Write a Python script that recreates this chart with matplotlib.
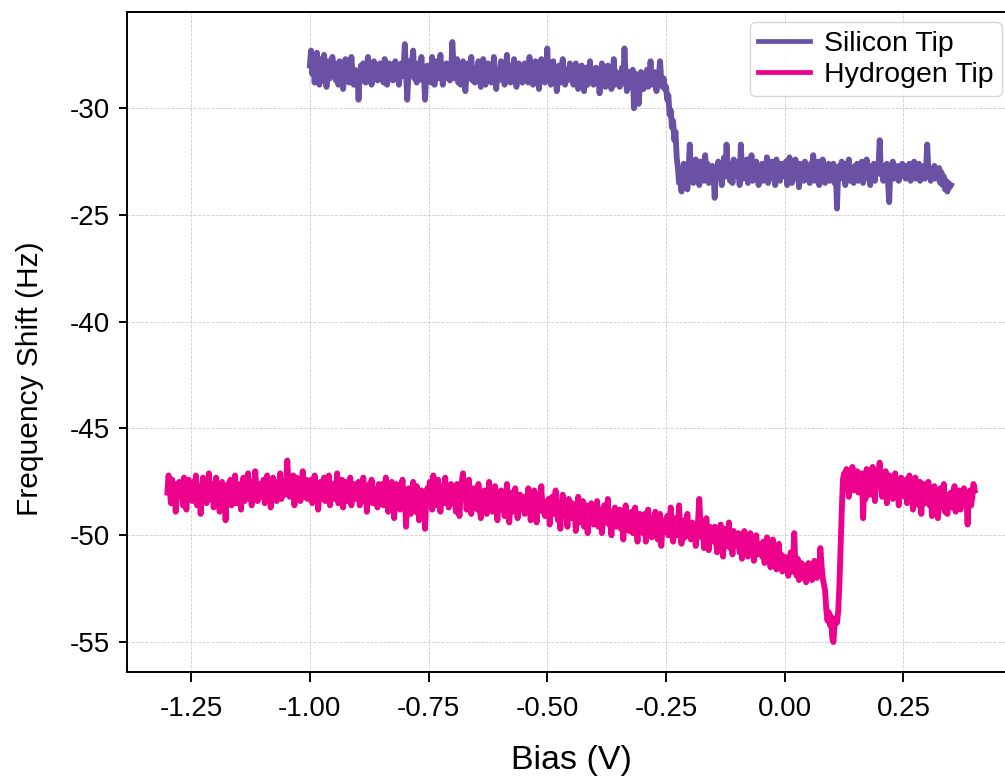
import numpy as np
import matplotlib
matplotlib.use("Agg")
import matplotlib.pyplot as plt

plt.rcParams['font.family'] = ['Liberation Sans', 'DejaVu Sans']

# bias sweeps (V), sampled every 2.5 mV
si_bias_range = (-1.00, 0.35)
h_bias_range = (-1.30, 0.40)

# frequency shift (Hz), silicon-terminated tip
silicon = [
    -28.0, -27.3, -28.4, -27.6, -28.8, -28.1, -27.4, -28.6, -28.9, -27.7, -28.3, -28.7, -27.5, -28.2, -29.0, -28.4, -27.8, -28.6, -28.1, -27.6,
    -28.5, -27.9, -28.7, -28.2, -28.9, -27.8, -28.4, -28.0, -29.1, -28.3, -27.7, -28.6, -28.1, -28.8, -28.4, -27.6, -28.5, -28.9, -28.2, -28.6,
    -28.3, -29.6, -28.5, -28.0, -28.7, -27.9, -28.4, -28.8, -28.1, -27.6, -28.6, -28.2, -28.9, -28.3, -27.8, -28.5, -28.0, -28.7, -28.4, -27.9,
    -28.6, -28.1, -28.8, -27.7, -28.4, -28.9, -28.2, -27.9, -28.5, -28.0, -28.7, -28.3, -27.8, -28.6, -28.2, -28.9, -28.4, -27.9, -28.5, -28.1,
    -27.0, -28.3, -29.6, -28.5, -27.8, -28.4, -28.0, -27.3, -28.6, -28.2, -28.8, -27.9, -28.5, -28.1, -27.6, -28.7, -28.3, -29.6, -28.4, -28.0,
    -28.5, -28.1, -28.8, -27.6, -28.3, -28.9, -28.2, -27.8, -28.6, -28.0, -27.5, -28.4, -28.9, -28.1, -28.5, -27.9, -28.6, -28.2, -28.7, -28.3,
    -26.9, -28.0, -28.6, -28.2, -27.7, -28.8, -28.3, -28.9, -28.1, -27.8, -28.5, -29.2, -28.4, -27.9, -28.6, -28.2, -27.6, -28.7, -28.3, -28.8,
    -28.1, -28.6, -27.8, -28.4, -29.0, -28.2, -27.7, -28.5, -28.9, -28.3, -27.9, -28.6, -28.1, -28.8, -28.4, -27.6, -28.5, -29.1, -28.2, -28.7,
    -28.4, -27.8, -28.6, -28.1, -28.9, -28.3, -27.5, -28.7, -28.2, -28.8, -28.0, -28.5, -27.7, -28.4, -29.0, -28.3, -27.9, -28.6, -28.2, -28.8,
    -28.3, -27.9, -28.7, -28.2, -28.8, -27.6, -28.5, -28.1, -28.9, -28.4, -27.8, -28.6, -28.2, -29.1, -28.4, -27.7, -28.5, -28.0, -28.8, -28.3,
    -27.2, -28.6, -28.2, -28.9, -28.4, -27.8, -28.7, -28.3, -29.2, -28.5, -28.0, -28.8, -28.3, -27.7, -28.6, -28.9, -28.2, -28.7, -28.4, -27.9,
    -28.6, -28.2, -28.9, -28.4, -27.9, -28.7, -29.1, -28.3, -28.8, -28.0, -28.6, -29.2, -28.5, -28.1, -28.9, -28.4, -27.8, -28.7, -28.3, -28.9,
    -28.5, -28.1, -28.8, -28.3, -29.3, -28.6, -27.9, -28.7, -28.2, -29.0, -28.5, -28.0, -28.8, -28.4, -29.1, -28.6, -27.7, -28.9, -28.3, -28.7,
    -28.4, -29.0, -28.6, -28.1, -28.8, -27.2, -28.5, -29.2, -28.7, -28.3, -29.0, -28.5, -28.2, -30.0, -28.7, -28.4, -29.1, -29.8, -28.9, -28.3,
    -28.6, -29.1, -28.4, -28.8, -28.2, -29.0, -28.5, -27.8, -28.9, -28.6, -28.3, -28.8, -29.2, -28.5, -28.4, -27.8, -28.7, -29.0, -28.6, -29.1,
    -29.0, -29.6, -29.4, -30.3, -30.1, -30.9, -30.6, -31.5, -31.1, -32.3, -32.8, -33.5, -33.2, -33.9, -33.1, -32.6, -33.7, -33.2, -33.8, -32.9,
    -31.7, -33.2, -32.6, -33.5, -32.9, -32.4, -33.3, -32.8, -33.6, -32.5, -33.0, -32.7, -33.4, -32.2, -33.1, -32.6, -33.5, -32.9, -33.3, -32.7,
    -33.0, -34.2, -32.8, -33.3, -32.5, -33.1, -32.7, -33.6, -32.9, -32.3, -33.2, -31.7, -33.0, -32.6, -33.4, -32.8, -33.5, -32.4, -33.1, -32.7,
    -33.2, -32.5, -33.6, -31.7, -32.9, -33.3, -32.6, -33.0, -32.4, -33.5, -32.8, -33.1, -32.2, -33.4, -32.7, -33.2, -32.5, -33.0, -33.6, -32.8,
    -33.1, -32.6, -33.4, -32.9, -33.2, -32.3, -33.5, -32.8, -33.0, -32.5, -33.3, -32.7, -33.6, -32.4, -33.1, -32.9, -33.4, -32.6, -33.0, -32.8,
    -33.2, -32.5, -33.6, -32.9, -32.3, -33.1, -33.5, -32.7, -33.0, -32.4, -33.3, -32.8, -33.7, -32.6, -33.2, -32.9, -33.4, -32.5, -33.1, -32.8,
    -33.0, -33.5, -32.6, -33.2, -32.2, -33.4, -32.8, -33.1, -32.5, -33.6, -32.9, -33.3, -32.4, -33.0, -33.5, -32.7, -33.2, -32.6, -33.4, -32.9,
    -33.1, -32.6, -33.5, -32.8, -34.7, -33.0, -32.7, -33.3, -32.5, -33.2, -32.9, -33.6, -32.6, -33.1, -32.4, -33.4, -32.8, -33.0, -33.5, -32.7,
    -33.2, -32.6, -33.4, -32.9, -33.1, -32.5, -33.5, -32.8, -33.0, -32.4, -33.3, -32.7, -33.6, -32.9, -33.2, -32.6, -33.4, -32.8, -33.0, -32.7,
    -31.5, -33.1, -32.7, -33.4, -32.9, -33.2, -32.6, -33.5, -34.4, -32.8, -33.1, -32.5, -33.3, -32.9, -33.0, -32.7, -33.4, -32.8, -33.2, -32.6,
    -33.0, -32.7, -33.3, -32.9, -33.1, -32.6, -33.4, -32.8, -33.2, -32.5, -33.3, -32.9, -33.0, -32.6, -33.4, -32.8, -33.1, -32.7, -33.3, -32.9,
    -31.7, -33.0, -32.8, -33.4, -32.9, -33.2, -32.7, -33.3, -32.9, -33.1, -32.8, -33.5, -33.0, -33.6, -33.2, -33.8, -33.4, -33.9, -33.5, -33.7,
    -33.6,
]

# frequency shift (Hz), hydrogen-terminated tip
hydrogen = [
    -48.0, -47.2, -47.9, -48.5, -47.4, -48.3, -47.8, -48.9, -47.6, -48.2, -47.5, -48.1, -47.9, -48.6, -47.3, -48.0, -48.8, -47.7, -47.4, -48.3,
    -47.8, -48.4, -47.5, -48.0, -47.2, -48.6, -48.1, -47.7, -49.0, -47.9, -47.3, -48.2, -47.6, -48.5, -47.8, -47.1, -48.3, -48.0, -47.6, -48.7,
    -47.9, -47.3, -48.4, -47.7, -48.9, -48.0, -47.5, -48.3, -47.8, -49.3, -48.1, -47.6, -48.2, -47.4, -48.6, -47.9, -48.1, -47.2, -48.5, -47.8,
    -48.2, -47.6, -48.8, -47.9, -47.3, -48.4, -47.7, -48.0, -47.1, -48.3, -47.8, -48.6, -47.5, -48.1, -47.0, -47.9, -48.4, -47.6, -48.2, -47.7,
    -48.0, -47.4, -48.5, -47.8, -47.2, -48.1, -47.6, -48.7, -47.9, -47.3, -48.2, -47.7, -48.4, -47.5, -48.0, -47.1, -48.3, -47.8, -47.5, -48.1,
    -47.6, -46.5, -47.7, -48.2, -47.4, -48.0, -47.2, -48.6, -47.8, -47.3, -48.1, -47.5, -48.4, -47.7, -47.0, -48.2, -47.9, -47.4, -48.3, -47.6,
    -48.1, -47.4, -48.5, -47.9, -47.2, -48.2, -47.6, -48.8, -48.0, -47.5, -48.3, -47.8, -47.3, -48.4, -47.7, -48.1, -47.2, -48.6, -47.9, -48.2,
    -47.6, -48.3, -47.8, -47.1, -48.5, -47.9, -48.2, -47.4, -48.7, -48.0, -47.5, -48.4, -47.8, -48.1, -47.3, -48.6, -47.9, -47.6, -48.3, -47.8,
    -48.2, -47.5, -48.6, -47.9, -48.1, -47.3, -48.4, -47.7, -48.9, -48.0, -47.6, -48.3, -47.4, -48.5, -47.8, -48.2, -47.9, -48.7, -47.6, -48.1,
    -48.3, -47.6, -48.6, -48.0, -47.3, -48.2, -48.9, -47.8, -48.4, -47.5, -48.1, -49.2, -48.0, -47.6, -48.5, -47.9, -48.8, -48.2, -47.4, -48.6,
    -48.0, -49.6, -48.5, -47.8, -48.3, -49.0, -48.6, -47.5, -48.2, -48.9, -47.7, -48.4, -49.3, -48.1, -47.9, -48.7, -48.2, -49.7, -48.4, -47.8,
    -48.4, -47.5, -48.1, -48.8, -47.2, -48.3, -47.9, -48.6, -47.4, -48.2, -48.9, -47.7, -48.0, -48.5, -47.3, -48.4, -47.8, -48.7, -48.1, -47.6,
    -48.5, -47.8, -48.2, -48.9, -47.6, -48.4, -49.1, -48.0, -47.5, -47.1, -48.2, -47.9, -48.8, -48.3, -47.4, -48.5, -49.0, -48.1, -47.8, -48.4,
    -48.2, -48.8, -47.6, -48.5, -49.2, -48.0, -48.6, -47.9, -48.3, -49.0, -48.4, -47.5, -48.7, -48.1, -48.9, -48.3, -47.7, -48.6, -49.3, -48.2,
    -48.4, -47.9, -48.8, -48.2, -49.1, -48.5, -47.6, -48.7, -49.4, -48.3, -48.0, -48.9, -48.4, -47.8, -48.6, -49.2, -48.5, -48.1, -48.8, -48.3,
    -48.2, -49.0, -48.5, -48.9, -47.8, -48.6, -49.3, -48.4, -48.8, -47.9, -48.5, -49.4, -48.1, -48.7, -48.3, -47.7, -48.9, -48.4, -49.1, -48.6,
    -48.9, -48.3, -49.5, -48.7, -48.2, -49.0, -48.6, -47.9, -48.8, -49.3, -48.5, -49.7, -48.6, -48.1, -49.0, -48.4, -48.9, -49.6, -48.3, -48.8,
    -49.2, -48.5, -49.0, -48.7, -49.8, -48.9, -48.2, -49.4, -48.8, -49.1, -48.4, -49.6, -49.0, -48.6, -49.9, -48.8, -49.3, -48.5, -49.1, -49.5,
    -48.7, -49.3, -48.4, -49.6, -49.0, -48.8, -49.9, -49.2, -48.6, -49.4, -49.0, -48.3, -49.5, -49.1, -50.0, -48.9, -49.3, -48.7, -49.6, -49.2,
    -49.4, -48.8, -49.7, -49.1, -50.2, -49.3, -48.6, -49.5, -49.0, -49.8, -49.3, -48.9, -49.9, -49.2, -48.7, -49.6, -50.3, -49.4, -49.0, -49.7,
    -49.3, -49.9, -49.0, -50.3, -49.6, -48.8, -49.7, -49.2, -50.1, -49.5, -49.9, -48.9, -49.6, -50.2, -49.4, -49.0, -50.5, -49.7, -49.3, -49.8,
    -49.5, -49.1, -50.0, -49.4, -48.7, -49.8, -50.3, -49.6, -49.2, -50.0, -49.5, -48.6, -49.7, -50.4, -49.8, -49.3, -50.1, -49.6, -49.0, -49.9,
    -49.7, -50.2, -49.4, -50.0, -49.6, -50.5, -49.9, -49.3, -48.3, -49.5, -50.1, -49.7, -50.6, -49.8, -49.2, -50.0, -50.7, -49.6, -50.2, -49.9,
    -50.3, -49.6, -50.1, -50.8, -49.9, -50.4, -49.5, -50.2, -51.0, -50.0, -49.7, -50.5, -50.1, -49.4, -50.6, -50.2, -50.9, -49.8, -50.4, -50.0,
    -50.5, -49.9, -50.8, -50.2, -51.1, -50.4, -49.8, -50.6, -50.1, -51.0, -50.5, -49.9, -50.7, -50.3, -51.2, -50.6, -50.0, -50.9, -50.4, -50.8,
    -50.5, -51.0, -50.3, -51.3, -50.7, -50.1, -51.1, -50.6, -51.5, -50.8, -50.2, -51.2, -50.9, -51.6, -51.0, -50.4, -51.3, -50.9, -51.7, -51.1,
    -51.0, -51.6, -51.2, -51.9, -51.4, -50.8, -51.7, -51.3, -49.9, -51.5, -51.9, -51.1, -52.1, -51.6, -51.3, -52.0, -51.4, -51.8, -52.2, -51.5,
    -51.3, -51.9, -51.5, -52.1, -51.6, -51.2, -51.8, -52.0, -51.4, -51.7, -50.6, -51.4, -52.0, -52.3, -52.6, -53.5, -54.0, -53.6, -54.2, -53.8,
    -54.8, -55.0, -54.2, -53.9, -54.1, -53.6, -52.4, -50.6, -48.9, -47.4, -47.1, -47.8, -46.9, -47.5, -48.2, -47.2, -47.6, -46.8, -47.9, -47.3,
    -47.7, -47.0, -48.0, -47.4, -47.8, -47.1, -49.2, -47.6, -48.3, -46.9, -47.9, -47.3, -48.1, -47.5, -46.8, -47.7, -48.4, -47.2, -47.6, -47.0,
    -46.6, -47.5, -48.2, -47.3, -47.8, -47.0, -48.5, -47.6, -47.2, -48.0, -47.4, -48.3, -47.7, -47.1, -48.1, -47.5, -48.6, -47.8, -47.3, -48.0,
    -47.6, -48.2, -47.4, -48.5, -47.8, -47.2, -48.3, -47.7, -48.8, -48.0, -47.3, -48.4, -47.9, -48.6, -47.5, -49.0, -48.1, -47.6, -48.5, -47.9,
    -48.3, -47.5, -48.6, -48.0, -49.1, -48.2, -47.7, -48.8, -48.1, -49.2, -48.4, -47.8, -48.7, -48.2, -47.6, -48.9, -48.3, -49.0, -48.1, -48.6,
    -48.0, -48.7, -48.2, -47.7, -48.9, -48.3, -48.6, -47.9, -48.8, -48.2, -48.5, -47.8, -48.4, -48.1, -49.5, -48.3, -47.9, -48.6, -48.2, -47.6,
    -47.9,
]

series_labels = ['Silicon Tip', 'Hydrogen Tip']
series_colors = ['#6a51a3', '#ec008c']

x_ticks = [-1.25, -1.0, -0.75, -0.5, -0.25, 0.0, 0.25]
y_ticks = [-30, -35, -40, -45, -50, -55]
y_tick_labels = ['-30', '-25', '-40', '-45', '-50', '-55']

si_bias = np.linspace(si_bias_range[0], si_bias_range[1], len(silicon))
h_bias = np.linspace(h_bias_range[0], h_bias_range[1], len(hydrogen))

fig = plt.figure(figsize=(10.05, 7.76), dpi=100)
# right spine falls just past the canvas edge
ax = fig.add_axes([0.1264, 0.134, 0.8836, 0.8505])

ax.plot(si_bias, silicon, color=series_colors[0], lw=4.2, label=series_labels[0])
ax.plot(h_bias, hydrogen, color=series_colors[1], lw=4.2, label=series_labels[1])

ax.set_yticks(y_ticks)
ax.set_yticklabels(y_tick_labels)
ax.set_xticks(x_ticks)
ax.set_xticklabels(['%.2f' % t for t in x_ticks])

ax.grid(True, linestyle='--', linewidth=0.6, color='#cccccc')
ax.set_axisbelow(True)
for side in ax.spines.values():
    side.set_linewidth(1.4)
ax.tick_params(axis='both', labelsize=20, width=1.4)
ax.tick_params(axis='x', length=7, pad=10.5)
ax.tick_params(axis='y', length=6, pad=6.5)

ax.set_xlabel('Bias (V)', fontsize=24.5, labelpad=16)
ax.set_ylabel('Frequency Shift (Hz)', fontsize=21.5)
ax.yaxis.set_label_coords(-0.0935, 0.444)

leg = ax.legend(loc='upper right', bbox_to_anchor=(1002 / 1005, 1 - 22 / 776),
                bbox_transform=fig.transFigure, borderaxespad=0, fontsize=20.5,
                handlelength=1.8, handletextpad=0.5, labelspacing=0.18,
                borderpad=0.3, fancybox=True)
for handle in leg.get_lines():
    handle.set_linewidth(3.4)

fig.savefig('out.png', dpi=100)
